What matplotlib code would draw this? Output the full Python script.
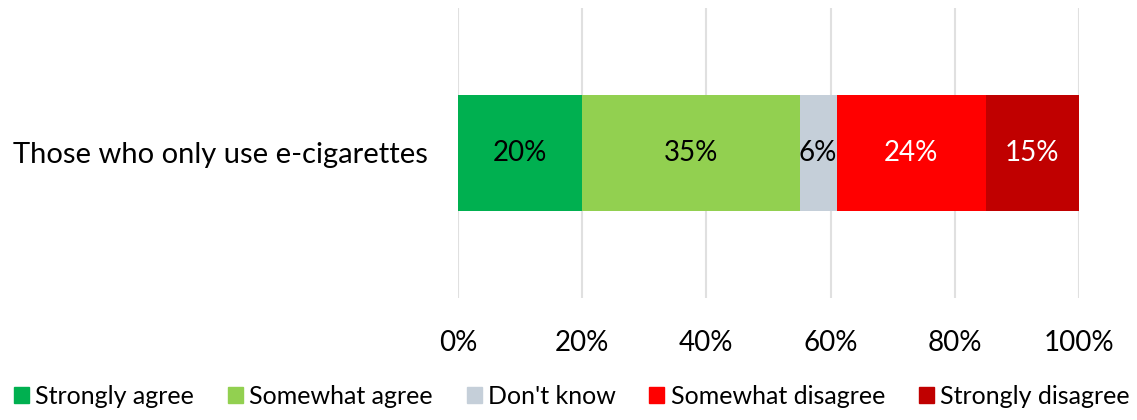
import matplotlib.pyplot as plt
from matplotlib.patches import Patch

category = "Those who only use e-cigarettes"
labels = ["Strongly agree", "Somewhat agree", "Don't know", "Somewhat disagree", "Strongly disagree"]
values = [20, 35, 6, 24, 15]
colors = ["#00B050", "#92D050", "#C5CFD9", "#FF0000", "#C00000"]
text_colors = ["black", "black", "black", "white", "white"]
ticks = [0, 20, 40, 60, 80, 100]

plt.rcParams['font.family'] = ['Lato', 'DejaVu Sans']

fig = plt.figure(figsize=(11.37, 4.2), dpi=100)
ax = fig.add_axes([0.4028, 0.2905, 0.5462, 0.6905])

left = 0
for v, c, tc in zip(values, colors, text_colors):
    ax.barh(0, v, left=left, height=0.79, color=c, zorder=3)
    ax.text(left + v / 2, 0, f"{v}%", ha="center", va="center", color=tc, fontsize=20, zorder=4)
    left += v

ax.set_xlim(0, 100)
ax.set_ylim(-0.99, 0.99)
ax.set_xticks(ticks)
ax.set_xticklabels([f"{t}%" for t in ticks], fontsize=20)
ax.set_yticks([0])
ax.set_yticklabels([category], fontsize=21)
ax.tick_params(axis="both", length=0)
ax.tick_params(axis="x", pad=23)
ax.tick_params(axis="y", pad=22)
ax.grid(axis="x", color="#E0E0E0", linewidth=1.5, zorder=0)
for s in ax.spines.values():
    s.set_visible(False)

handles = [Patch(color=c, label=l) for c, l in zip(colors, labels)]
fig.legend(handles=handles, loc="lower center", bbox_to_anchor=(0.503, -0.025), ncol=5,
           frameon=False, fontsize=18, handlelength=0.6, handleheight=0.6,
           handletextpad=0.25, columnspacing=1.35)

fig.savefig("out.png", dpi=100)
